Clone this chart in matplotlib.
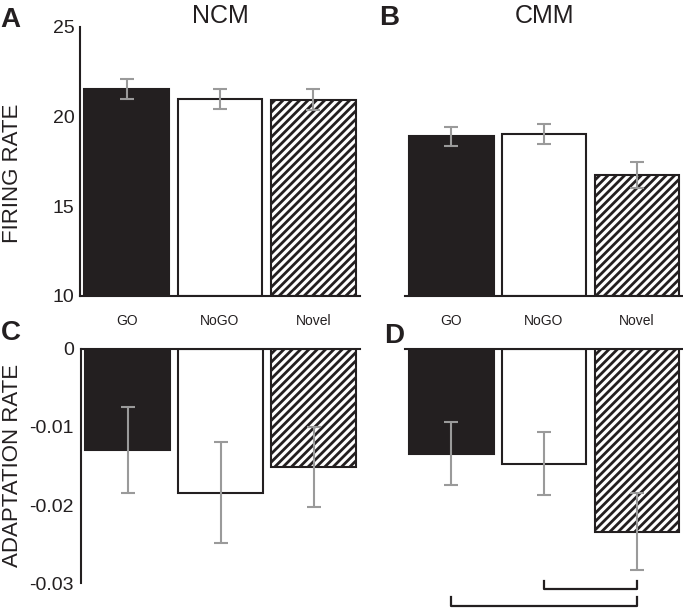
import matplotlib
matplotlib.use("Agg")
import matplotlib.pyplot as plt

plt.rcParams["font.family"] = ["Liberation Sans", "DejaVu Sans"]
plt.rcParams["hatch.linewidth"] = 2.0

# conditions, shared by all four panels
CONDITIONS = ["GO", "NoGO", "Novel"]

# firing rate (top row) and adaptation rate (bottom row), mean and error
NCM_RATE = [21.54, 20.98, 20.95]
NCM_RATE_ERR = [0.55, 0.58, 0.60]
CMM_RATE = [18.92, 19.03, 16.75]
CMM_RATE_ERR = [0.53, 0.54, 0.72]

NCM_ADAPT = [-0.0130, -0.0184, -0.0151]
NCM_ADAPT_ERR = [0.0055, 0.0065, 0.0051]
CMM_ADAPT = [-0.0134, -0.0147, -0.0234]
CMM_ADAPT_ERR = [0.0040, 0.0040, 0.0049]

RATE_TICKS = [10, 15, 20, 25]
ADAPT_TICKS = [-0.03, -0.02, -0.01, 0]
ADAPT_TICK_LABELS = ["-0.03", "-0.02", "-0.01", "0"]

# significance brackets in panel D: (left bar, right bar, y level)
BRACKETS = [(1, 2, -0.0308), (0, 2, -0.0329)]

INK = "#231f20"
FACE = [INK, "white", "white"]
HATCH = [None, None, "////"]
ERR_COLOR = "#9a9a9a"


def draw_bars(ax, means, errs, base):
    """Bars start at `base` (10 for firing rate, 0 for adaptation)."""
    xs = list(range(len(CONDITIONS)))
    for x, m, face, hatch in zip(xs, means, FACE, HATCH):
        ax.bar(x, m - base, bottom=base, width=0.91, color=face,
               edgecolor=INK, linewidth=1.5, hatch=hatch, zorder=2)
    ax.errorbar(xs, means, yerr=errs, fmt="none", ecolor=ERR_COLOR,
                elinewidth=1.5, capsize=4.7, capthick=1.5, zorder=3)
    ax.set_xlim(-0.5, 2.5)
    for s in ax.spines.values():
        s.set_linewidth(1.5)
        s.set_color(INK)


fig = plt.figure(figsize=(6.83, 6.08), dpi=100)

ax_a = fig.add_axes([0.1171, 0.5132, 0.4100, 0.4424])
ax_b = fig.add_axes([0.5930, 0.5132, 0.4070, 0.4424])
ax_c = fig.add_axes([0.1186, 0.0411, 0.4085, 0.3849])
ax_d = fig.add_axes([0.5930, 0.0411, 0.4070, 0.3849])

# top row: firing rate
for ax, means, errs in [(ax_a, NCM_RATE, NCM_RATE_ERR),
                        (ax_b, CMM_RATE, CMM_RATE_ERR)]:
    draw_bars(ax, means, errs, base=10)
    ax.set_ylim(10, 25)
    ax.set_xticks(range(len(CONDITIONS)))
    ax.set_xticklabels(CONDITIONS, fontsize=10, color=INK)
    ax.tick_params(axis="x", length=0, pad=13)
    ax.spines["top"].set_visible(False)
    ax.spines["right"].set_visible(False)

ax_a.set_yticks(RATE_TICKS)
ax_a.set_yticklabels([str(t) for t in RATE_TICKS], fontsize=14, color=INK)
ax_a.tick_params(axis="y", length=0, pad=4)
ax_b.set_yticks([])
ax_b.spines["left"].set_visible(False)

# bottom row: adaptation rate, bars hang down from zero
for ax, means, errs in [(ax_c, NCM_ADAPT, NCM_ADAPT_ERR),
                        (ax_d, CMM_ADAPT, CMM_ADAPT_ERR)]:
    draw_bars(ax, means, errs, base=0)
    ax.set_ylim(-0.03, 0)
    ax.set_xticks([])
    ax.spines["bottom"].set_visible(False)
    ax.spines["right"].set_visible(False)

ax_c.set_yticks(ADAPT_TICKS)
ax_c.set_yticklabels(ADAPT_TICK_LABELS, fontsize=14, color=INK)
ax_c.tick_params(axis="y", length=0, pad=5)
ax_d.set_yticks([])
ax_d.spines["left"].set_visible(False)

# significance brackets below panel D
tick = 0.0011
for left, right, level in BRACKETS:
    ax_d.plot([left, left, right, right],
              [level + tick, level, level, level + tick],
              color=INK, linewidth=1.6, clip_on=False)

# titles, panel letters, axis labels
fig.text(220 / 683, 1 - 16 / 608, "NCM", fontsize=18, ha="center", va="center",
         color=INK)
fig.text(544 / 683, 1 - 16 / 608, "CMM", fontsize=18, ha="center", va="center",
         color=INK)
for x, y, letter in [(0, 20, "A"), (379, 18, "B"), (1, 333, "C"), (384, 336, "D")]:
    fig.text(x / 683, 1 - y / 608, letter, fontsize=20, fontweight="bold",
             ha="left", va="center", color=INK)
fig.text(13 / 683, 1 - 173 / 608, "FIRING RATE", fontsize=16, rotation=90,
         ha="center", va="center", color=INK)
fig.text(13 / 683, 1 - 465 / 608, "ADAPTATION RATE", fontsize=16, rotation=90,
         ha="center", va="center", color=INK)

fig.savefig("out.png", dpi=100)
